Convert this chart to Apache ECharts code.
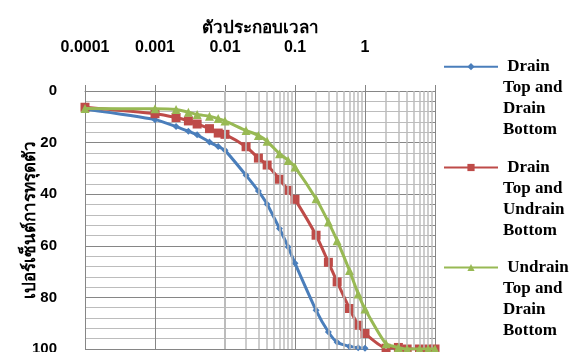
<!DOCTYPE html>
<html>
<head>
<meta charset="utf-8">
<script src="https://cdn.jsdelivr.net/npm/echarts@6/dist/echarts.min.js"></script>
<style>
  html, body { margin: 0; padding: 0; background: #fff; }
  #chart { width: 584px; height: 352px; }
</style>
</head>
<body>
<div id="chart"></div>
<script>
// Time factor (Tv) at each reading
const timeFactor = [0.0001, 0.001, 0.002, 0.003, 0.004, 0.006, 0.008, 0.01,
  0.02, 0.03, 0.04, 0.06, 0.08, 0.1, 0.2, 0.3, 0.4, 0.6, 0.8, 1,
  2, 3, 4, 6, 8, 10];

// Percent settlement for each drainage condition
const drainTopDrainBottom = [7, 11.1, 13.8, 15.6, 17, 19.8, 21.5, 23,
  32.7, 38.8, 43.9, 53.3, 60.5, 66.8, 85, 93.4, 97.4, 99, 99.5, 99.7];
const drainTopUndrainBottom = [6.3, 8.8, 10.3, 11.6, 12.8, 14.6, 16.3, 16.8,
  21.6, 26, 28.7, 34.2, 38.5, 42, 55.9, 66.4, 74, 84.3, 90.8, 94,
  99.7, 99.4, 100, 100, 100, 100];
const undrainTopDrainBottom = [6.8, 6.9, 7.2, 8.2, 9.1, 9.8, 10.7, 11.6,
  15.3, 17.2, 19.5, 24.3, 26.9, 29.5, 41.8, 50.8, 58, 69.6, 78.7, 84.5,
  98, 99.4, 100, 100, 100, 100];

const seriesNames = ['Drain Top and Drain Bottom', 'Drain Top and Undrain Bottom', 'Undrain Top and Drain Bottom'];
const seriesColors = ['#4a7ebb', '#be4b48', '#98b954'];
const seriesSymbols = ['diamond', 'rect', 'triangle'];
const seriesValues = [drainTopDrainBottom, drainTopUndrainBottom, undrainTopDrainBottom];

const xAxisTitle = 'ตัวประกอบเวลา';
const yAxisTitle = 'เปอร์เซ็นต์การทรุดตัว';

// minor log gridlines: 2..9 within each decade
const minorLogLines = [];
for (let e = -4; e <= 0; e++) {
  for (let k = 2; k <= 9; k++) {
    minorLogLines.push(Number((k * Math.pow(10, e)).toPrecision(3)));
  }
}

const pairs = (vals) => vals.map((v, i) => [timeFactor[i], v]);
// legend text: four lines, first line level with the key; three blank
// lines on top keep the block centred on that first line
const wrapName = (name) => {
  const m = name.match(/^(\S+) (Top and) (\S+) (Bottom)$/);
  const body = m ? ' ' + m[1] + '\n' + m[2] + '\n' + m[3] + '\n' + m[4] : name;
  return '\n\n\n' + body;
};

const chart = echarts.init(document.getElementById('chart'), null, { renderer: 'canvas' });

const lineH = 21;
const legendCenters = [66.7, 167.5, 267.5];
const legends = seriesNames.map((n, i) => ({
  data: [n],
  left: 443,
  top: legendCenters[i] - 3.5 * lineH,
  orient: 'vertical',
  padding: 0,
  itemWidth: 54,
  itemHeight: 9,
  selectedMode: false,
  formatter: wrapName,
  textStyle: {
    fontFamily: 'Liberation Serif, serif',
    fontSize: 17,
    fontWeight: 'bold',
    color: '#000',
    lineHeight: lineH
  }
}));

const dataSeries = seriesNames.map((n, i) => ({
  name: n,
  type: 'line',
  smooth: 0.2,
  data: pairs(seriesValues[i]),
  symbol: seriesSymbols[i],
  symbolSize: i === 0 ? 7 : 9,
  itemStyle: { color: seriesColors[i] },
  lineStyle: { color: seriesColors[i], width: 3 },
  z: 3 + i
}));

const gridSeries = {
  name: 'minorGrid',
  type: 'line',
  data: [],
  silent: true,
  z: 1,
  markLine: {
    silent: true,
    symbol: ['none', 'none'],
    animation: false,
    label: { show: false },
    lineStyle: { type: 'solid', color: '#bcbcbc', width: 1.5 },
    data: minorLogLines.map(v => ({ xAxis: v }))
  }
};

chart.setOption({
  animation: false,
  backgroundColor: '#fff',
  grid: { left: 85, right: 149, top: 91, bottom: 3, containLabel: false, outerBoundsMode: 'none' },
  legend: legends,
  xAxis: {
    type: 'log',
    logBase: 10,
    position: 'top',
    min: 0.0001,
    max: 10,
    name: xAxisTitle,
    nameLocation: 'middle',
    nameGap: 54,
    nameMoveOverlap: false,
    nameTextStyle: { fontFamily: 'Noto Sans, sans-serif', fontSize: 17, fontWeight: 'bold', color: '#000' },
    axisLine: { show: true, lineStyle: { color: '#868686', width: 1 } },
    axisTick: { show: true, length: 6, lineStyle: { color: '#868686' } },
    axisLabel: {
      margin: 35,
      fontFamily: 'Liberation Sans, Arial, sans-serif',
      fontSize: 16,
      fontWeight: 'bold',
      color: '#000',
      formatter: (v) => (v >= 10 ? '' : String(Number(v.toPrecision(1))))
    },
    splitLine: { show: true, lineStyle: { color: '#868686', width: 1 } }
  },
  yAxis: [{
    type: 'value',
    inverse: true,
    min: 0,
    max: 100,
    interval: 20,
    name: yAxisTitle,
    nameLocation: 'middle',
    nameGap: 46,
    nameRotate: 90,
    nameMoveOverlap: false,
    nameTextStyle: { fontFamily: 'Noto Sans, sans-serif', fontSize: 17, fontWeight: 'bold', color: '#000' },
    axisLine: { show: false },
    axisTick: { show: false },
    axisLabel: {
      margin: 28,
      fontFamily: 'Liberation Sans, Arial, sans-serif',
      fontSize: 15,
      fontWeight: 'bold',
      color: '#000'
    },
    splitLine: { show: true, lineStyle: { color: '#868686', width: 1.2 } },
    minorTick: { show: false, splitNumber: 5 },
    minorSplitLine: { show: true, lineStyle: { color: '#bcbcbc', width: 1 } }
  }, {
    type: 'value',
    position: 'right',
    inverse: true,
    min: 0,
    max: 100,
    interval: 4,
    axisLine: { show: true, lineStyle: { color: '#868686', width: 1 } },
    axisTick: { show: true, inside: true, length: 5, lineStyle: { color: '#868686' } },
    axisLabel: { show: false },
    splitLine: { show: false }
  }],
  series: [gridSeries].concat(dataSeries)
});
</script>
</body>
</html>
